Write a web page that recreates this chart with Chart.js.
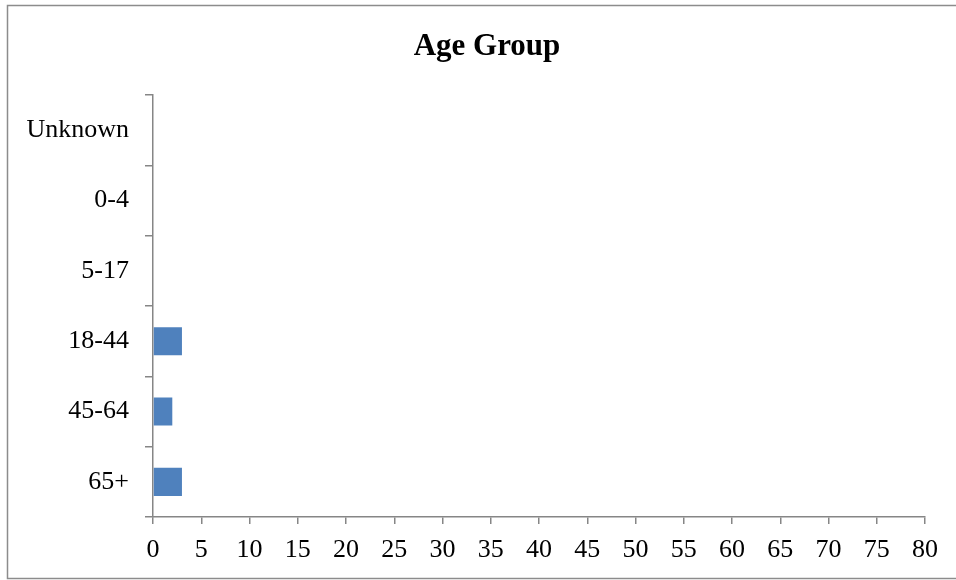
<!DOCTYPE html>
<html>
<head>
<meta charset="utf-8">
<script src="https://cdn.jsdelivr.net/npm/chart.js@4"></script>
<style>
  html, body { margin: 0; padding: 0; background: #fff; }
  #wrap { width: 956px; height: 580px; }
</style>
</head>
<body>
<div id="wrap"><canvas id="ageChart" width="956" height="580"></canvas></div>
<script>
const ageGroups = ['Unknown', '0-4', '5-17', '18-44', '45-64', '65+'];
const counts = [0, 0, 0, 3, 2, 3];
const xMax = 80;
const xStep = 5;

const axisGrey = '#868686';
const serif = "'Liberation Serif', 'Times New Roman', serif";

// outer frame round the whole chart
const framePlugin = {
    id: 'frame',
    afterDraw: (chart) => {
        const ctx = chart.ctx;
        ctx.save();
        ctx.strokeStyle = '#8c8c8c';
        ctx.lineWidth = 1.5;
        ctx.strokeRect(7.5, 5.5, 960, 573);
        ctx.restore();
    }
};

const ChartAge = new Chart(document.getElementById('ageChart'), {
    type: 'bar',
    data: {
        labels: ageGroups,
        datasets: [{
            label: 'Age Group',
            data: counts,
            backgroundColor: '#4f81bd',
            borderWidth: 0,
            barPercentage: 0.4,
            categoryPercentage: 1
        }]
    },
    options: {
        indexAxis: 'y',
        responsive: false,
        animation: false,
        layout: {
            padding: { left: 18, right: 0, top: 0, bottom: 0 }
        },
        plugins: {
            legend: { display: false },
            tooltip: { enabled: false },
            title: {
                display: true,
                text: 'Age Group',
                color: '#000',
                font: { family: serif, size: 31, weight: 'bold', lineHeight: 1.2 },
                padding: { top: 28, bottom: 30 }
            }
        },
        scales: {
            x: {
                min: 0,
                max: xMax,
                ticks: {
                    stepSize: xStep,
                    color: '#000',
                    padding: 11,
                    maxRotation: 0,
                    autoSkip: false,
                    font: { family: serif, size: 26 }
                },
                grid: {
                    drawOnChartArea: false,
                    drawTicks: true,
                    tickLength: 7,
                    color: axisGrey,
                    lineWidth: 1.5
                },
                border: { color: axisGrey, width: 1.5 },
                afterFit: (scale) => {
                    scale.height = 63;
                    scale.paddingRight = 31;
                }
            },
            y: {
                ticks: {
                    color: '#000',
                    padding: 16,
                    autoSkip: false,
                    font: { family: serif, size: 26 }
                },
                grid: {
                    offset: true,
                    drawOnChartArea: false,
                    drawTicks: true,
                    tickLength: 8,
                    color: axisGrey,
                    lineWidth: 1.5
                },
                border: { color: axisGrey, width: 1.5 },
                afterFit: (scale) => { scale.width = 135; }
            }
        }
    },
    plugins: [framePlugin]
});
</script>
</body>
</html>
